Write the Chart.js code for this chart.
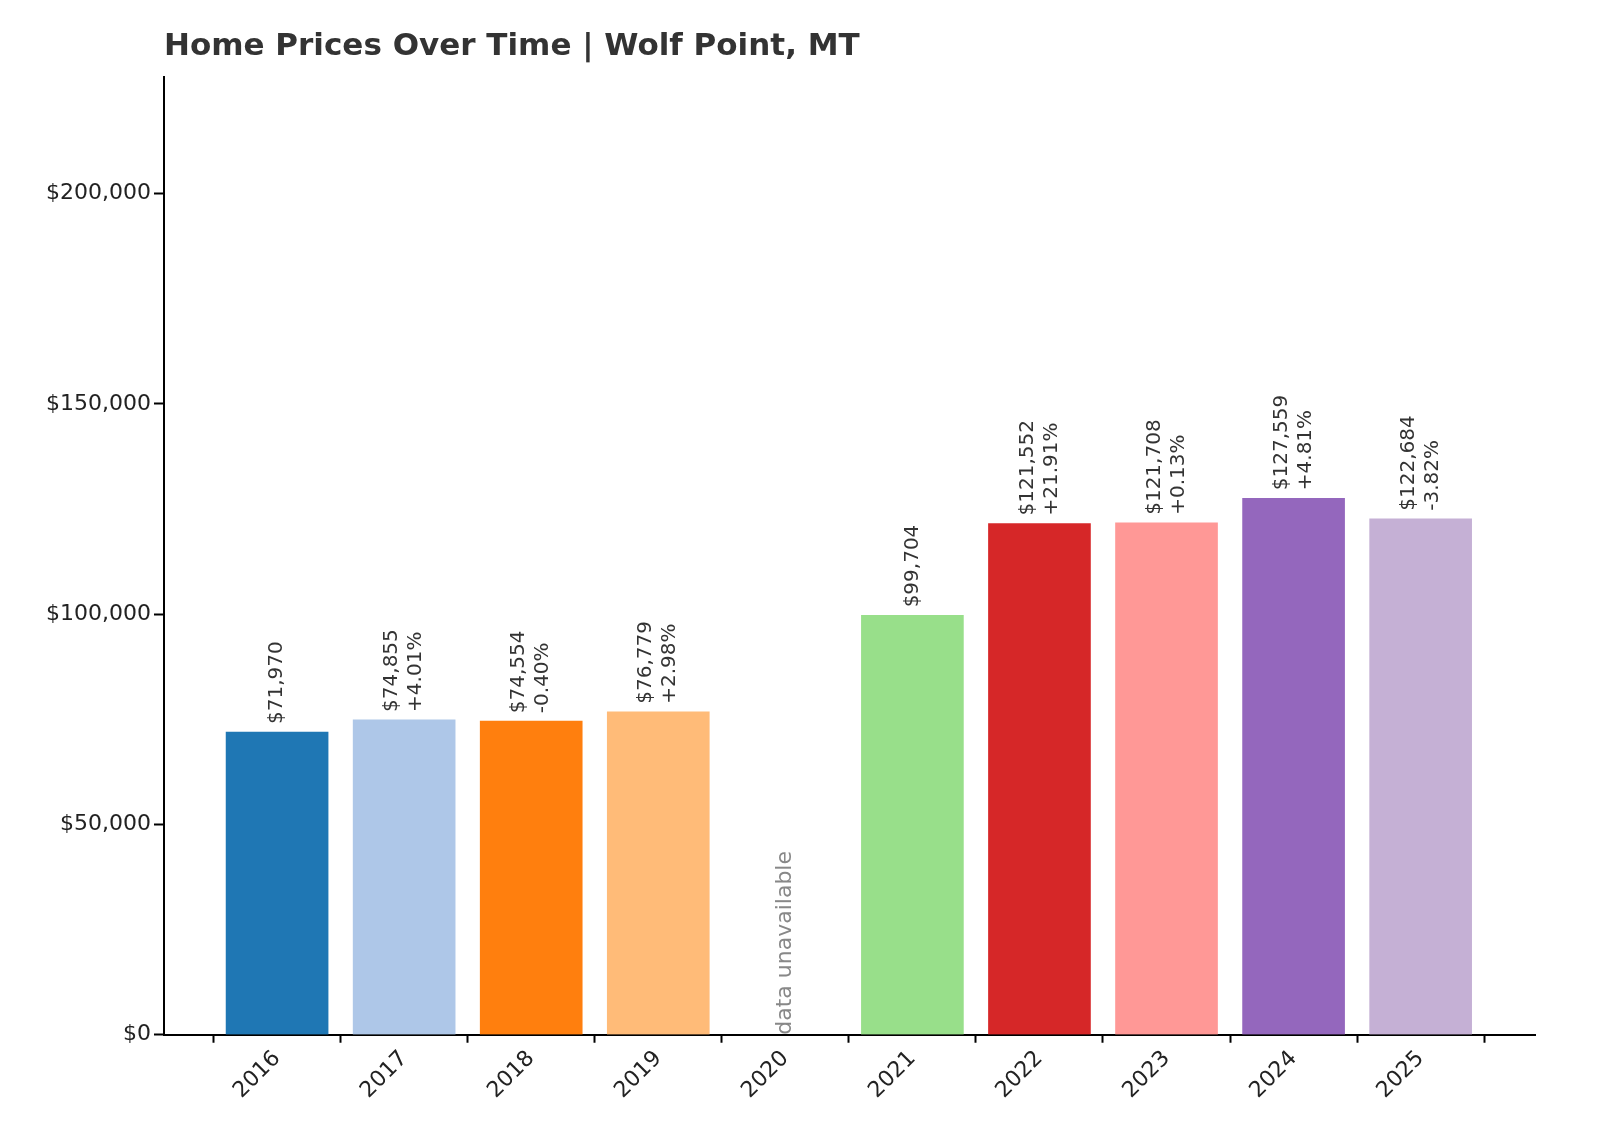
<!DOCTYPE html>
<html><head><meta charset="utf-8">
<script src="https://cdn.jsdelivr.net/npm/chart.js@4"></script>
<style>html,body{margin:0;background:#fff}#w{width:1600px;height:1143px}</style>
</head><body><div id="w"><canvas id="c"></canvas></div>
<script>
const years=[2016,2017,2018,2019,2020,2021,2022,2023,2024,2025];
const values=[71970,74855,74554,76779,null,99704,121552,121708,127559,122684];
const changes=[null,"+4.01%","-0.40%","+2.98%",null,null,"+21.91%","+0.13%","+4.81%","-3.82%"];
const colors=["#1f77b4","#aec7e8","#ff7f0e","#ffbb78","#98df8a","#98df8a","#d62728","#ff9896","#9467bd","#c5b0d5"];
const yTicks=[0,50000,100000,150000,200000];
const titleText="Home Prices Over Time | Wolf Point, MT";
const fmt=v=>"$"+v.toLocaleString("en-US");
const labelPlugin={id:"lbl",afterDatasetsDraw(ch){
  const ctx=ch.ctx,xs=ch.scales.x,ys=ch.scales.y;
  ctx.save();
  ctx.font="bold 31px 'DejaVu Sans'";ctx.fillStyle="#333";ctx.textAlign="left";ctx.textBaseline="middle";
  ctx.fillText(titleText,ch.chartArea.left,47);
  ctx.font="20px 'DejaVu Sans'";
  years.forEach((yr,i)=>{
    const x=xs.getPixelForValue(yr);
    if(values[i]==null){
      ctx.save();ctx.translate(x,ys.getPixelForValue(0));ctx.rotate(-Math.PI/2);
      ctx.fillStyle="#888";ctx.textAlign="left";ctx.font="22px 'DejaVu Sans'";ctx.fillText("data unavailable",0,0);ctx.restore();return;}
    const y=ys.getPixelForValue(values[i])-8;
    ctx.save();ctx.translate(x,y);ctx.rotate(-Math.PI/2);ctx.fillStyle="#333";ctx.textAlign="left";
    if(changes[i]){ctx.fillText(fmt(values[i]),0,-12);ctx.fillText(changes[i],0,12);}
    else ctx.fillText(fmt(values[i]),0,0);
    ctx.restore();});
  ctx.restore();}};
new Chart(document.getElementById("c"),{type:"bar",
 data:{datasets:[{data:years.map((y,i)=>({x:y,y:values[i]})),backgroundColor:colors,barThickness:102}]},
 options:{responsive:true,maintainAspectRatio:false,animation:false,
  layout:{padding:{left:0,right:65,top:77,bottom:36}},
  plugins:{legend:{display:false},tooltip:{enabled:false},title:{display:false}},
  scales:{
   x:{type:"linear",offset:false,min:2015.11,max:2025.9,
    grid:{display:true,drawOnChartArea:false,drawTicks:true,tickLength:8,tickColor:"#000",tickWidth:2},
    border:{color:"#000",width:2},
    afterBuildTicks:a=>{a.ticks=years.map(v=>({value:v}));},
    ticks:{color:"#222",font:{family:"'DejaVu Sans'",size:22},maxRotation:45,minRotation:45,callback:v=>String(v)}},
   y:{min:0,max:227700,grid:{display:true,drawOnChartArea:false,tickLength:10,tickColor:"#000",tickWidth:2},border:{color:"#000",width:2},
    afterBuildTicks:a=>{a.ticks=yTicks.map(v=>({value:v}));},
    afterFit:a=>{a.width=164;},
    ticks:{color:"#222",font:{family:"'DejaVu Sans'",size:22},callback:v=>fmt(v)}}}},
 plugins:[labelPlugin]});
</script></body></html>
